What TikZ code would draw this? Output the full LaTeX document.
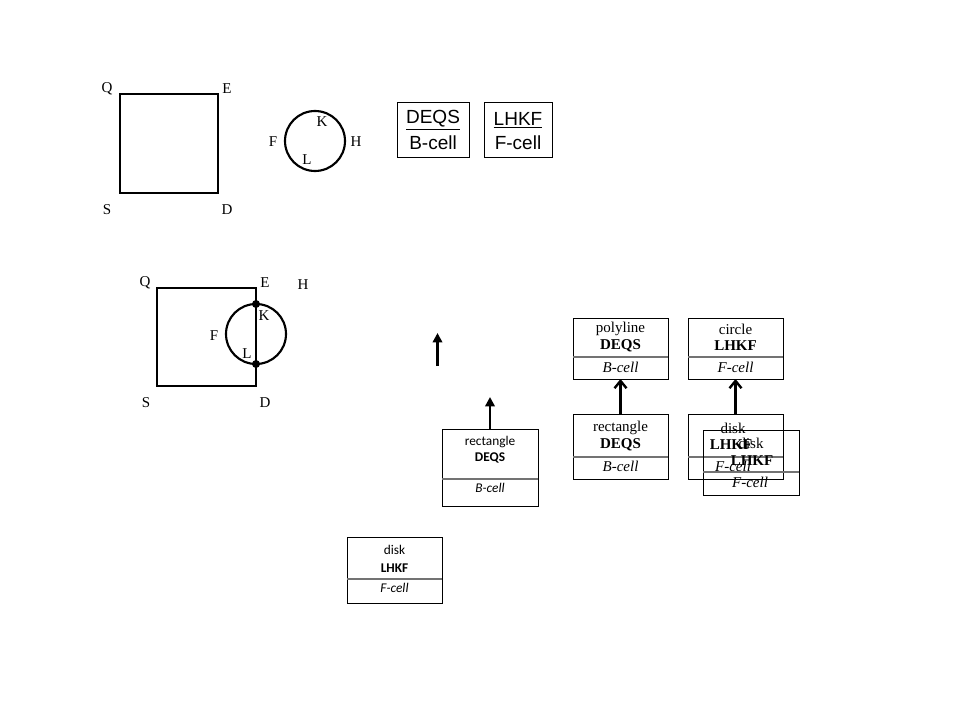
\documentclass[tikz,border=0pt]{standalone}
\usepackage{fontspec}
\setmainfont{Liberation Serif}
\newfontfamily\arialf{Liberation Sans}
\newfontfamily\calibrif{Carlito}
\usetikzlibrary{arrows.meta}
\begin{document}
\begin{tikzpicture}[x=0.75pt,y=-0.75pt,
  lbl/.style={font=\fontsize{11.25}{13}\selectfont, inner sep=0pt},
  shapeline/.style={draw, line width=2.2pt, inner sep=0pt, outer sep=0pt},
  cellbox/.style={draw, line width=0.75pt, inner sep=0pt, outer sep=0pt},
  tbox/.style={draw, line width=0.75pt, inner sep=0pt, outer sep=0pt, minimum width={0.75*71pt}, minimum height={0.75*55pt}},
  arialtxt/.style={font=\arialf\fontsize{14.25}{16}\selectfont, inner sep=0pt},
  ttxt/.style={font=\fontsize{11.25}{13}\selectfont, inner sep=0pt},
  ctxt/.style={font=\calibrif\fontsize{10}{12}\selectfont, inner sep=0pt},
  sepline/.style={draw=black!55, line width=1.4pt},
  dot/.style={circle, fill=black, inner sep=0pt, minimum size={0.75*8pt}},
  arrA/.style={line width=2.2pt, -{Triangle[length=7pt,width=7pt]}},
  arrB/.style={line width=2.2pt, -{Straight Barb[length=5.5pt,width=9pt,line width=1.8pt]}}
]
\useasboundingbox (0,0) rectangle (960,720);

% ---------- top-left square ----------
\node[shapeline, minimum width={0.75*98pt}, minimum height={0.75*99pt}] (sqA) at (169,143.5) {};
\node[lbl] (qA) at (107,89) {Q};
\node[lbl] (eA) at (227,89) {E};
\node[lbl] (sA) at (107,210) {S};
\node[lbl] (dA) at (227,210) {D};

% ---------- top circle ----------
\node[draw, circle, line width=1.6pt, inner sep=0pt, minimum size={0.75*60pt}] (ciA) at (315,141) {};
\node[lbl] (kA) at (322,122) {K};
\node[lbl] (fA) at (273,142) {F};
\node[lbl] (hA) at (356,142) {H};
\node[lbl] (lA) at (307,160) {L};

% ---------- top boxes ----------
\node[tbox, minimum width={0.75*72pt}] (bxD) at (433,130.5) {};
\node[arialtxt] (bxDt) at (433,120) {\underline{DEQS}};
\node[arialtxt] (bxDb) at (433,143) {B-cell};
\node[tbox, minimum width={0.75*68pt}] (bxL) at (518,130.5) {};
\node[arialtxt] (bxLt) at (518,120) {\underline{LHKF}};
\node[arialtxt] (bxLb) at (518,143) {F-cell};

% ---------- second square with circle ----------
\node[shapeline, minimum width={0.75*99pt}, minimum height={0.75*98pt}] (sqB) at (206.5,337) {};
\node[draw, circle, line width=1.6pt, inner sep=0pt, minimum size={0.75*60pt}] (ciB) at (256,334) {};
\node[dot] (dK) at (256,304) {};
\node[dot] (dL) at (256,364) {};
\node[lbl] (qB) at (145,283) {Q};
\node[lbl] (eB) at (265,283) {E};
\node[lbl] (hB) at (303,285) {H};
\node[lbl] (kB) at (264,316) {K};
\node[lbl] (fB) at (214,336) {F};
\node[lbl] (lB) at (247,354) {L};
\node[lbl] (sB) at (146,403) {S};
\node[lbl] (dB) at (265,403) {D};

% ---------- lone arrow ----------
\coordinate (loneS) at (437.5,366);
\coordinate (loneE) at (437.5,333);
\draw[arrA] (loneS) -- (loneE);

% ---------- Calibri boxes ----------
\node[cellbox, minimum width={0.75*96pt}, minimum height={0.75*77pt}] (rcC) at (490,467.5) {};
\draw[sepline] (442,479) -- (538,479);
\node[ctxt] (rcC1) at (490,442) {rectangle};
\node[ctxt] (rcC2) at (490,458) {\bfseries DEQS};
\node[ctxt] (rcC3) at (490,488) {\itshape B-cell};
\coordinate (rcCtip) at (490,397);
\draw[arrA] (rcC.north) -- (rcCtip);

\node[cellbox, minimum width={0.75*95pt}, minimum height={0.75*66pt}] (dkC) at (394.5,570) {};
\draw[sepline] (347,579) -- (442,579);
\node[ctxt] (dkC1) at (394.5,550) {disk};
\node[ctxt] (dkC2) at (394.5,568) {\bfseries LHKF};
\node[ctxt] (dkC3) at (394.5,588) {\itshape F-cell};

% ---------- Times boxes ----------
\node[cellbox, minimum width={0.75*95pt}, minimum height={0.75*61pt}] (poly) at (620.5,348.5) {};
\draw[sepline] (573,357) -- (668,357);
\node[ttxt] (poly1) at (620.5,329) {polyline};
\node[ttxt] (poly2) at (620.5,346) {\bfseries DEQS};
\node[ttxt] (poly3) at (620.5,367) {\itshape B-cell};

\node[cellbox, minimum width={0.75*95pt}, minimum height={0.75*61pt}] (circ) at (735.5,348.5) {};
\draw[sepline] (688,357) -- (783,357);
\node[ttxt] (circ1) at (735.5,329) {circle};
\node[ttxt] (circ2) at (735.5,346) {\bfseries LHKF};
\node[ttxt] (circ3) at (735.5,367) {\itshape F-cell};

\node[cellbox, minimum width={0.75*95pt}, minimum height={0.75*65pt}] (rect) at (620.5,446.5) {};
\draw[sepline] (573,457) -- (668,457);
\node[ttxt] (rect1) at (620.5,428) {rectangle};
\node[ttxt] (rect2) at (620.5,445) {\bfseries DEQS};
\node[ttxt] (rect3) at (620.5,466) {\itshape B-cell};

\node[cellbox, minimum width={0.75*95pt}, minimum height={0.75*65pt}] (dsk) at (735.5,446.5) {};
\draw[sepline] (688,457) -- (783,457);
\node[ttxt] (dsk1) at (733,428) {disk};
\node[ttxt] (dsk2) at (731,445) {\bfseries LHKF};
\node[ttxt] (dsk3) at (733,466) {\itshape F-cell};

\node[cellbox, minimum width={0.75*96pt}, minimum height={0.75*65pt}] (dskb) at (751,462.5) {};
\draw[sepline] (703,472) -- (799,472);
\node[ttxt] (dskb1) at (751,443) {disk};
\node[ttxt] (dskb2) at (752,461) {\bfseries LHKF};
\node[ttxt] (dskb3) at (750,482) {\itshape F-cell};

\draw[arrB] (rect.north) -- (poly.south);
\draw[arrB] (dsk.north) -- (circ.south);
\end{tikzpicture}
\end{document}
